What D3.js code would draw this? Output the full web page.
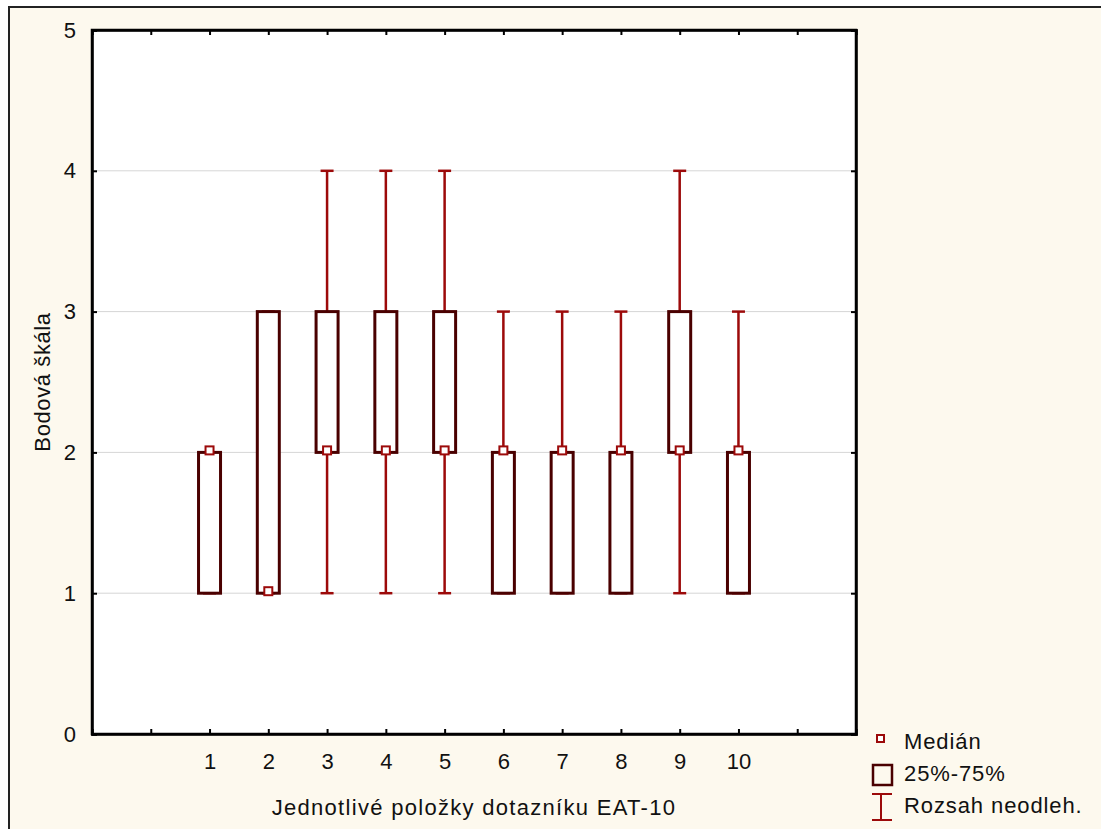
<!DOCTYPE html>
<html>
<head>
<meta charset="utf-8">
<script src="https://cdn.jsdelivr.net/npm/d3@7"></script>
<style>
  body { margin: 0; background: #fff; }
  text { font-family: "Liberation Sans", Arial, sans-serif; fill: #111; }
</style>
</head>
<body>
<svg id="chart" width="1101" height="829"></svg>
<script>
// EAT-10 items, box = 25%-75%, whiskers = min/max range
var items   = [1, 2, 3, 4, 5, 6, 7, 8, 9, 10];
var mins    = [1, 1, 1, 1, 1, 1, 1, 1, 1, 1];
var q1s     = [1, 1, 2, 2, 2, 1, 1, 1, 2, 1];
var medians = [2, 1, 2, 2, 2, 2, 2, 2, 2, 2];
var q3s     = [2, 3, 3, 3, 3, 2, 2, 2, 3, 2];
var maxs    = [2, 3, 4, 4, 4, 3, 3, 3, 4, 3];
var yTicks  = [0, 1, 2, 3, 4, 5];
var legendLabels = ["Medián", "25%-75%", "Rozsah neodleh."];

var boxColor = "#4a0000", rangeColor = "#9c0a0a";
var fontSize = "22px";

var svg = d3.select("svg#chart");
var plot = { left: 92, top: 30, right: 856, bottom: 734 };

var x = d3.scaleLinear().domain([-1, 12]).range([plot.left, plot.right]);
var y = d3.scaleLinear().domain([0, 5]).range([plot.bottom, plot.top]);

// outer cream panel
svg.append("rect")
   .attr("x", 9).attr("y", 7)
   .attr("width", 1110).attr("height", 840)
   .attr("fill", "#fdf9ee")
   .attr("stroke", "#222")
   .attr("stroke-width", 2);

svg.append("rect")
   .attr("x", plot.left).attr("y", plot.top)
   .attr("width", plot.right - plot.left)
   .attr("height", plot.bottom - plot.top)
   .attr("fill", "#fff");

// gridlines
svg.append("g")
   .selectAll("line")
   .data([1, 2, 3, 4])
   .enter().append("line")
   .attr("x1", plot.left).attr("x2", plot.right)
   .attr("y1", function (d) { return y(d); })
   .attr("y2", function (d) { return y(d); })
   .attr("stroke", "#d6d6d6")
   .attr("stroke-width", 1);

// axes
var xTickVals = d3.range(0, 12);
var fmtX = function (d) { return (d >= 1 && d <= 10) ? d : ""; };

svg.append("g")
   .attr("class", "axis")
   .attr("transform", "translate(0," + plot.bottom + ")")
   .call(d3.axisBottom(x).tickValues(xTickVals).tickSize(-5).tickPadding(19).tickFormat(fmtX));

svg.append("g")
   .attr("class", "axis")
   .attr("transform", "translate(0," + plot.top + ")")
   .call(d3.axisTop(x).tickValues(xTickVals).tickSize(-5).tickFormat(""));

svg.append("g")
   .attr("class", "axis")
   .attr("transform", "translate(" + plot.left + ",0)")
   .call(d3.axisLeft(y).tickValues(yTicks).tickSize(-5).tickPadding(16).tickFormat(d3.format("d")));

svg.append("g")
   .attr("class", "axis")
   .attr("transform", "translate(" + plot.right + ",0)")
   .call(d3.axisRight(y).tickValues(yTicks).tickSize(-5).tickFormat(""));

svg.selectAll(".axis path").attr("stroke", "#000").attr("stroke-width", 2.5);
svg.selectAll(".axis line").attr("stroke", "#000").attr("stroke-width", 2);
svg.selectAll(".axis text")
   .style("font-family", "'Liberation Sans', Arial, sans-serif")
   .style("font-size", fontSize)
   .attr("fill", "#111");

// outer frame of plot
svg.append("rect")
   .attr("x", plot.left).attr("y", plot.top)
   .attr("width", plot.right - plot.left)
   .attr("height", plot.bottom - plot.top)
   .attr("fill", "none")
   .attr("stroke", "#000")
   .attr("stroke-width", 2.5);

// whiskers (drawn first, boxes over them)
var capW = 13, boxW = 22, medW = 8;
var whisk = svg.append("g").selectAll("g")
   .data(items)
   .enter().append("g");

whisk.append("line")
   .attr("x1", function (d) { return x(d); })
   .attr("x2", function (d) { return x(d); })
   .attr("y1", function (d, i) { return y(mins[i]); })
   .attr("y2", function (d, i) { return y(maxs[i]); })
   .attr("stroke", rangeColor)
   .attr("stroke-width", 2.5);

whisk.selectAll(".cap")
   .data(function (d, i) { return [[d, mins[i]], [d, maxs[i]]]; })
   .enter().append("line")
   .attr("class", "cap")
   .attr("x1", function (p) { return x(p[0]) - capW / 2; })
   .attr("x2", function (p) { return x(p[0]) + capW / 2; })
   .attr("y1", function (p) { return y(p[1]); })
   .attr("y2", function (p) { return y(p[1]); })
   .attr("stroke", rangeColor)
   .attr("stroke-width", 2.5);

// boxes
svg.append("g").selectAll("rect")
   .data(items)
   .enter().append("rect")
   .attr("x", function (d) { return x(d) - boxW / 2; })
   .attr("y", function (d, i) { return y(q3s[i]); })
   .attr("width", boxW)
   .attr("height", function (d, i) { return y(q1s[i]) - y(q3s[i]); })
   .attr("fill", "#fff")
   .attr("stroke", boxColor)
   .attr("stroke-width", 3);

// medians
svg.append("g").selectAll("rect")
   .data(items)
   .enter().append("rect")
   .attr("x", function (d) { return x(d) - medW / 2; })
   .attr("y", function (d, i) { return y(medians[i]) - medW / 2 - 2; })
   .attr("width", medW)
   .attr("height", medW)
   .attr("fill", "#fff")
   .attr("stroke", rangeColor)
   .attr("stroke-width", 2);

// axis titles
svg.append("text")
   .attr("x", (plot.left + plot.right) / 2)
   .attr("y", 815)
   .attr("text-anchor", "middle")
   .style("font-size", fontSize)
   .style("letter-spacing", "1.3px")
   .text("Jednotlivé položky  dotazníku EAT-10");

svg.append("text")
   .attr("transform", "translate(50," + ((plot.top + plot.bottom) / 2) + ") rotate(-90)")
   .attr("text-anchor", "middle")
   .style("font-size", fontSize)
   .style("letter-spacing", "0.6px")
   .text("Bodová škála");

// legend
var leg = svg.append("g");
leg.append("rect")
   .attr("x", 877).attr("y", 735)
   .attr("width", 7).attr("height", 7)
   .attr("fill", "#fff").attr("stroke", rangeColor).attr("stroke-width", 2);
leg.append("rect")
   .attr("x", 873).attr("y", 765)
   .attr("width", 19).attr("height", 20)
   .attr("fill", "none").attr("stroke", boxColor).attr("stroke-width", 2.5);
leg.append("line")
   .attr("x1", 881).attr("x2", 881).attr("y1", 794).attr("y2", 820)
   .attr("stroke", rangeColor).attr("stroke-width", 2);
leg.selectAll(".lcap")
   .data([794, 820])
   .enter().append("line")
   .attr("class", "lcap")
   .attr("x1", 872).attr("x2", 892)
   .attr("y1", function (d) { return d; })
   .attr("y2", function (d) { return d; })
   .attr("stroke", rangeColor).attr("stroke-width", 2);

leg.selectAll("text")
   .data(legendLabels)
   .enter().append("text")
   .attr("x", 904)
   .attr("y", function (d, i) { return 749 + i * 32; })
   .style("font-size", fontSize)
   .style("letter-spacing", "0.9px")
   .text(function (d) { return d; });
</script>
</body>
</html>
